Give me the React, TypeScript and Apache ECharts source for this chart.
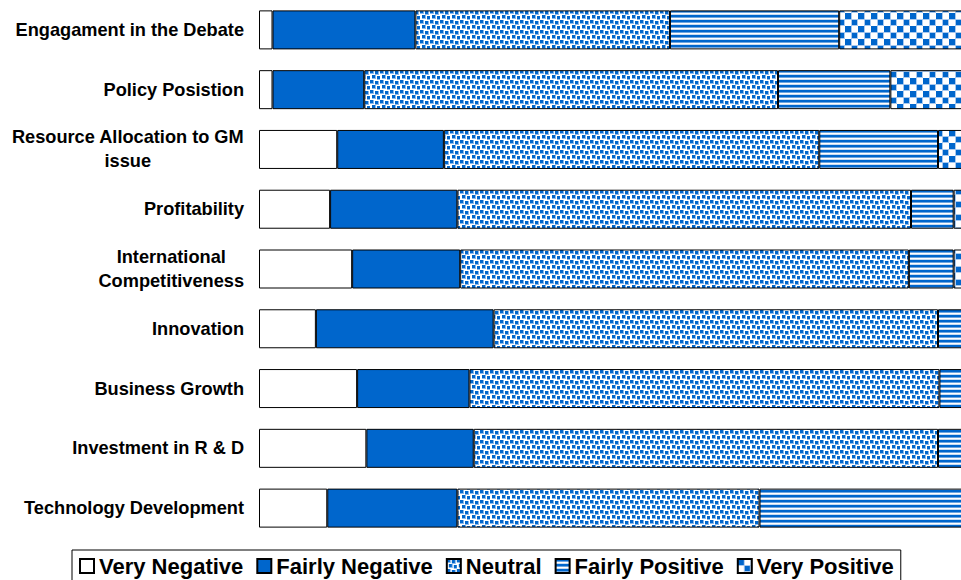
import React, { useEffect, useRef } from "react";
import * as echarts from "echarts";

const categories = [
  "Engagament in the Debate",
  "Policy Posistion",
  "Resource Allocation to GM\nissue",
  "Profitability",
  "International\nCompetitiveness",
  "Innovation",
  "Business Growth",
  "Investment in R & D",
  "Technology Development",
];

const seriesNames = ["Very Negative", "Fairly Negative", "Neutral", "Fairly Positive", "Very Positive"];

// percentages, top to bottom
const veryNegative = [1.9, 1.9, 11.0, 10.0, 13.1, 8.0, 13.8, 15.1, 9.6];
const fairlyNegative = [20.1, 12.9, 15.0, 17.9, 15.2, 25.0, 15.8, 15.1, 18.3];
const neutral = [35.8, 58.2, 52.8, 63.8, 63.1, 62.5, 66.1, 65.3, 42.5];
const fairlyPositive = [23.8, 15.8, 16.7, 6.0, 6.3, 4.5, 4.3, 4.5, 29.6];
const veryPositive = [18.4, 11.2, 4.5, 2.3, 2.3, 0, 0, 0, 0];

const BLUE = "#0066CC";
const FONT = "Liberation Sans, Arial, sans-serif";

function makeTile(w: number, h: number, draw: (ctx: CanvasRenderingContext2D) => void) {
  const c = document.createElement("canvas");
  c.width = w;
  c.height = h;
  const ctx = c.getContext("2d") as CanvasRenderingContext2D;
  ctx.fillStyle = "#ffffff";
  ctx.fillRect(0, 0, w, h);
  draw(ctx);
  return { image: c.toDataURL(), repeat: "repeat", imageWidth: w, imageHeight: h } as any;
}

export default function App() {
  const ref = useRef<HTMLDivElement>(null);

  useEffect(() => {
    if (!ref.current) return;
    const chart = echarts.init(ref.current, undefined, { renderer: "svg" });

    const dots = makeTile(10, 10, (ctx) => {
      const pts = [
        [0, 0],
        [5, 1],
        [2, 5],
        [7, 6],
      ];
      for (const [x, y] of pts) {
        ctx.fillStyle = "#8ab8ea";
        ctx.fillRect(x, y, 4, 4);
        ctx.fillStyle = BLUE;
        ctx.fillRect(x, y, 3, 3);
      }
    });

    const stripes = makeTile(4, 5, (ctx) => {
      ctx.fillStyle = BLUE;
      ctx.fillRect(0, 0, 4, 2);
      ctx.fillStyle = "#6fa6e0";
      ctx.fillRect(0, 2, 4, 1);
      ctx.fillStyle = "#c9dcf2";
      ctx.fillRect(0, 4, 4, 1);
    });

    const checker = makeTile(13, 13, (ctx) => {
      ctx.fillStyle = "#a9c9ee";
      ctx.fillRect(0, 0, 7, 7);
      ctx.fillRect(6, 6, 7, 7);
      ctx.fillStyle = BLUE;
      ctx.fillRect(0, 0, 6, 6);
      ctx.fillRect(7, 7, 5, 5);
    });

    const fills: any[] = ["#ffffff", BLUE, dots, stripes, checker];
    const values = [veryNegative, fairlyNegative, neutral, fairlyPositive, veryPositive];

    chart.setOption({
      animation: false,
      backgroundColor: "#ffffff",
      grid: { left: 259, top: 0, width: 711, height: 538, containLabel: false },
      xAxis: { type: "value", min: 0, max: 100, show: false },
      yAxis: {
        type: "category",
        data: categories,
        inverse: true,
        axisLine: { show: false },
        axisTick: { show: false },
        splitLine: { show: false },
        axisLabel: {
          interval: 0,
          margin: 15,
          color: "#000",
          fontFamily: FONT,
          fontWeight: "bold",
          fontSize: 18.2,
          lineHeight: 24,
          formatter: (v: string) =>
            v
              .split("\n")
              .map((l) => `{c|${l}}`)
              .join("\n"),
          rich: {
            c: {
              align: "center",
              color: "#000",
              fontFamily: FONT,
              fontWeight: "bold",
              fontSize: 18.2,
              lineHeight: 24,
            },
          },
        },
      },
      legend: {
        data: seriesNames,
        left: 72,
        top: 550,
        orient: "horizontal",
        itemWidth: 14,
        itemHeight: 14,
        itemGap: 13,
        padding: [5, 7, 6, 7],
        borderColor: "#000",
        borderWidth: 1,
        icon: "rect",
        textStyle: { color: "#000", fontFamily: FONT, fontWeight: "bold", fontSize: 22 },
      },
      series: seriesNames.map((name, i) => ({
        name,
        type: "bar",
        stack: "total",
        barWidth: 39,
        data: values[i],
        itemStyle: { color: fills[i], borderColor: "#000", borderWidth: 1 },
        emphasis: { disabled: true },
      })),
    });

    return () => chart.dispose();
  }, []);

  return (
    <div
      style={{
        position: "fixed",
        left: 0,
        top: 0,
        width: 961,
        height: 580,
        overflow: "hidden",
        background: "#fff",
      }}
    >
      <div ref={ref} style={{ width: 980, height: 580 }} />
    </div>
  );
}
